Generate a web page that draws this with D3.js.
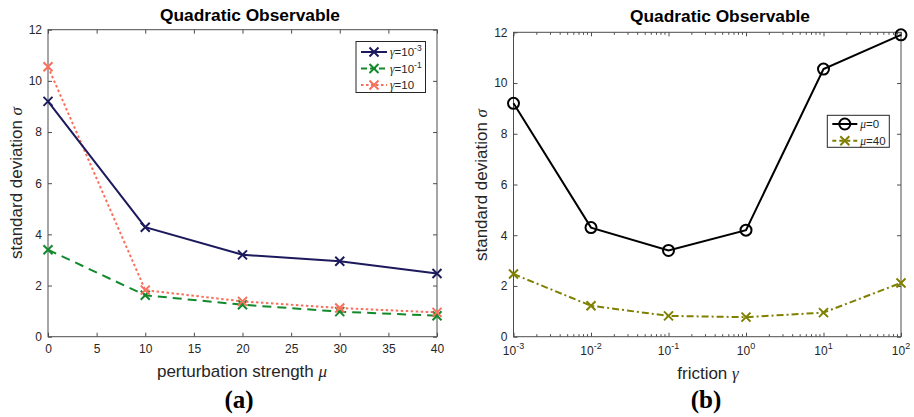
<!DOCTYPE html>
<html>
<head>
<meta charset="utf-8">
<script src="https://cdn.jsdelivr.net/npm/d3@7"></script>
<style>
  body { margin: 0; background: #fff; }
  svg { display: block; font-family: "Liberation Sans", Arial, sans-serif; }
</style>
</head>
<body>
<div id="chart"></div>
<script>
const W = 914;
const H = 417;

// panel (a): sigma vs perturbation strength mu
const muValues = [0, 10, 20, 30, 40];
const sigmaGammaSmall = [9.2, 4.28, 3.2, 2.95, 2.47];   // gamma = 1e-3
const sigmaGammaMid = [3.4, 1.62, 1.25, 0.98, 0.82];    // gamma = 1e-1
const sigmaGammaLarge = [10.55, 1.82, 1.38, 1.12, 0.95]; // gamma = 10
const muTicks = [0, 5, 10, 15, 20, 25, 30, 35, 40];

// panel (b): sigma vs friction gamma
const gammaValues = [1e-3, 1e-2, 1e-1, 1, 10, 100];
const sigmaMu0 = [9.2, 4.3, 3.4, 4.2, 10.55, 11.9];
const sigmaMu40 = [2.47, 1.22, 0.82, 0.77, 0.95, 2.12];
const gammaExponents = [-3, -2, -1, 0, 1, 2];

const sigmaTicks = [0, 2, 4, 6, 8, 10, 12];

const AXIS_COLOR = "#4d4d4d";

const svg = d3.select("#chart").append("svg")
  .attr("width", W).attr("height", H)
  .attr("viewBox", `0 0 ${W} ${H}`);

function drawFrame(g, x, y, xAxisBottom, xAxisTop) {
  const [x0, x1] = x.range();
  const [y0, y1] = y.range();

  g.append("g").attr("transform", `translate(0,${y0})`).call(xAxisBottom);
  g.append("g").attr("transform", `translate(0,${y1})`).call(xAxisTop);
  g.append("g").attr("transform", `translate(${x0},0)`)
    .call(d3.axisLeft(y).tickValues(sigmaTicks).tickSize(-4).tickPadding(6));
  g.append("g").attr("transform", `translate(${x1},0)`)
    .call(d3.axisRight(y).tickValues(sigmaTicks).tickSize(-4).tickFormat(""));

  g.selectAll(".domain").remove();
  g.selectAll(".tick line").attr("stroke", AXIS_COLOR).attr("stroke-width", 1);
  g.selectAll(".tick text")
    .attr("fill", "#262626")
    .attr("font-size", 12)
    .attr("font-family", "Liberation Sans, Arial, sans-serif");

  g.append("rect")
    .attr("x", x0).attr("y", y1)
    .attr("width", x1 - x0).attr("height", y0 - y1)
    .attr("fill", "none")
    .attr("stroke", AXIS_COLOR)
    .attr("stroke-width", 1);
}

function drawSeries(g, x, y, xs, ys, opt) {
  const pts = xs.map((v, i) => [x(v), y(ys[i])]);
  g.append("path")
    .attr("d", d3.line()(pts))
    .attr("fill", "none")
    .attr("stroke", opt.color)
    .attr("stroke-width", 2)
    .attr("stroke-dasharray", opt.dash || null);
  pts.forEach((p) => drawMarker(g, p[0], p[1], opt));
}

function drawMarker(g, cx, cy, opt) {
  if (opt.marker === "o") {
    g.append("circle")
      .attr("cx", cx).attr("cy", cy).attr("r", 5.5)
      .attr("fill", "none")
      .attr("stroke", opt.color)
      .attr("stroke-width", 2);
  } else {
    const s = 4.5;
    g.append("path")
      .attr("d", `M${cx - s},${cy - s}L${cx + s},${cy + s}M${cx - s},${cy + s}L${cx + s},${cy - s}`)
      .attr("stroke", opt.color)
      .attr("stroke-width", 2)
      .attr("fill", "none");
  }
}

function mathLabel(sel, plain, symbol) {
  sel.append("tspan").text(plain);
  sel.append("tspan")
    .attr("font-family", "Liberation Serif, Times New Roman, serif")
    .attr("font-style", "italic")
    .text(symbol);
}

function drawLegend(g, box, rows) {
  g.append("rect")
    .attr("x", box.x).attr("y", box.y)
    .attr("width", box.w).attr("height", box.h)
    .attr("fill", "#fff")
    .attr("stroke", "#262626")
    .attr("stroke-width", 1);
  rows.forEach((r, i) => {
    const cy = box.y + box.first + i * box.step;
    g.append("line")
      .attr("x1", box.x + 5).attr("x2", box.x + 5 + box.lineLen)
      .attr("y1", cy).attr("y2", cy)
      .attr("stroke", r.color)
      .attr("stroke-width", 2)
      .attr("stroke-dasharray", r.dash || null);
    drawMarker(g, box.x + 5 + box.lineLen / 2, cy, r);
    const t = g.append("text")
      .attr("x", box.x + box.lineLen + 8)
      .attr("y", cy + 4)
      .attr("font-size", 11.5)
      .attr("fill", "#262626");
    t.append("tspan")
      .attr("font-family", "Liberation Serif, serif")
      .attr("font-style", "italic")
      .text(r.sym);
    t.append("tspan").text(r.base);
    if (r.sup) {
      t.append("tspan").attr("dy", -5).attr("font-size", 8.5).text(r.sup);
    }
  });
}

function title(g, cx, y) {
  g.append("text")
    .attr("x", cx).attr("y", y)
    .attr("text-anchor", "middle")
    .attr("font-size", 16).attr("font-weight", "bold")
    .attr("textLength", 180)
    .attr("lengthAdjust", "spacingAndGlyphs")
    .attr("fill", "#000")
    .text("Quadratic Observable");
}

// ---------- panel (a) ----------
const gA = svg.append("g");
const xA = d3.scaleLinear().domain([0, 40]).range([48, 437]);
const yA = d3.scaleLinear().domain([0, 12]).range([336.7, 29.7]);

drawFrame(gA, xA, yA,
  d3.axisBottom(xA).tickValues(muTicks).tickSize(-4).tickPadding(8),
  d3.axisTop(xA).tickValues(muTicks).tickSize(-4).tickFormat(""));

const seriesA = [
  { ys: sigmaGammaMid, color: "#128a2c", dash: "9,6", marker: "x" },
  { ys: sigmaGammaLarge, color: "#f7705d", dash: "2.5,2.5", marker: "x" },
  { ys: sigmaGammaSmall, color: "#1c1a5c", dash: null, marker: "x" },
];
seriesA.forEach((s) => drawSeries(gA, xA, yA, muValues, s.ys, s));

drawLegend(gA, { x: 356, y: 41.5, w: 69.5, h: 51, first: 10.5, step: 16.5, lineLen: 26 }, [
  { color: "#1c1a5c", dash: null, marker: "x", sym: "γ", base: "=10", sup: "-3" },
  { color: "#128a2c", dash: "6,3", marker: "x", sym: "γ", base: "=10", sup: "-1" },
  { color: "#f7705d", dash: "2.5,2.5", marker: "x", sym: "γ", base: "=10", sup: null },
]);

title(gA, 250, 20.5);

gA.append("text")
  .attr("x", 242).attr("y", 377)
  .attr("text-anchor", "middle")
  .attr("font-size", 17).attr("fill", "#262626")
  .call(mathLabel, "perturbation strength ", "μ");

gA.append("text")
  .attr("transform", "translate(22,183) rotate(-90)")
  .attr("text-anchor", "middle")
  .attr("font-size", 17).attr("fill", "#262626")
  .call(mathLabel, "standard deviation ", "σ");

gA.append("text")
  .attr("x", 239).attr("y", 408)
  .attr("text-anchor", "middle")
  .attr("font-family", "Liberation Serif, Times New Roman, serif")
  .attr("font-size", 25).attr("font-weight", "bold")
  .text("(a)");

// ---------- panel (b) ----------
const gB = svg.append("g");
const xB = d3.scaleLog().domain([1e-3, 100]).range([513.5, 901]);
const yB = d3.scaleLinear().domain([0, 12]).range([336.7, 32.3]);

const minorTicks = [];
for (let e = -3; e < 2; e++) {
  for (let m = 2; m <= 9; m++) minorTicks.push(m * Math.pow(10, e));
}

drawFrame(gB, xB, yB,
  d3.axisBottom(xB).tickValues(gammaValues).tickSize(-4).tickPadding(8).tickFormat(""),
  d3.axisTop(xB).tickValues(gammaValues).tickSize(-4).tickFormat(""));

// minor log ticks, bottom and top
[yB.range()[0], yB.range()[1]].forEach((yy, k) => {
  gB.append("g").selectAll("line")
    .data(minorTicks)
    .join("line")
    .attr("x1", (d) => xB(d)).attr("x2", (d) => xB(d))
    .attr("y1", yy).attr("y2", k === 0 ? yy - 2.5 : yy + 2.5)
    .attr("stroke", AXIS_COLOR);
});

// 10^n tick labels
gB.append("g").selectAll("text")
  .data(gammaExponents)
  .join("text")
  .attr("x", (d) => xB(Math.pow(10, d)))
  .attr("y", 355)
  .attr("text-anchor", "middle")
  .attr("font-size", 12)
  .attr("fill", "#262626")
  .each(function (d) {
    const t = d3.select(this);
    t.append("tspan").text("10");
    t.append("tspan").attr("dy", -6).attr("font-size", 9).text(d);
  });

drawSeries(gB, xB, yB, gammaValues, sigmaMu40, { color: "#808000", dash: "7,3,2,3", marker: "x" });
drawSeries(gB, xB, yB, gammaValues, sigmaMu0, { color: "#000", dash: null, marker: "o" });

drawLegend(gB, { x: 827.3, y: 115.3, w: 62, h: 32, first: 8.7, step: 16.7, lineLen: 25 }, [
  { color: "#000", dash: null, marker: "o", sym: "μ", base: "=0", sup: null },
  { color: "#808000", dash: "4,3", marker: "x", sym: "μ", base: "=40", sup: null },
]);

title(gB, 720, 21.5);

gB.append("text")
  .attr("x", 708).attr("y", 379)
  .attr("text-anchor", "middle")
  .attr("font-size", 17).attr("fill", "#262626")
  .call(mathLabel, "friction ", "γ");

gB.append("text")
  .attr("transform", "translate(487,185) rotate(-90)")
  .attr("text-anchor", "middle")
  .attr("font-size", 17).attr("fill", "#262626")
  .call(mathLabel, "standard deviation ", "σ");

gB.append("text")
  .attr("x", 706).attr("y", 408)
  .attr("text-anchor", "middle")
  .attr("font-family", "Liberation Serif, Times New Roman, serif")
  .attr("font-size", 25).attr("font-weight", "bold")
  .text("(b)");
</script>
</body>
</html>
